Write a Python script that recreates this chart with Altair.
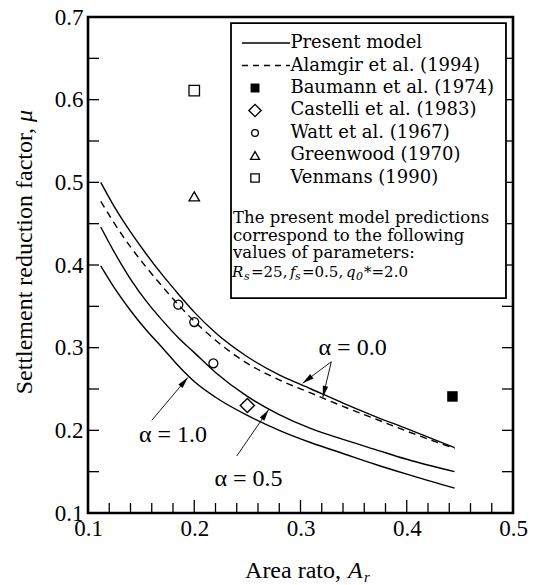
import altair as alt
import pandas as pd
import numpy as np

# ---------------- data ----------------
area_ratio = [0.112, 0.125, 0.14, 0.155, 0.17, 0.185, 0.2, 0.22, 0.25, 0.28, 0.31, 0.34, 0.37, 0.40, 0.445]
mu_alpha_00 = [0.500, 0.470, 0.440, 0.413, 0.388, 0.365, 0.343, 0.318, 0.289, 0.267, 0.250, 0.233, 0.217, 0.202, 0.179]
mu_alpha_05 = [0.446, 0.415, 0.383, 0.356, 0.333, 0.312, 0.294, 0.270, 0.241, 0.219, 0.202, 0.189, 0.177, 0.165, 0.150]
mu_alpha_10 = [0.399, 0.372, 0.345, 0.321, 0.300, 0.278, 0.259, 0.240, 0.218, 0.200, 0.185, 0.172, 0.159, 0.147, 0.130]
mu_alamgir = [0.477, 0.450, 0.422, 0.397, 0.374, 0.352, 0.332, 0.309, 0.281, 0.261, 0.245, 0.229, 0.214, 0.199, 0.178]

baumann_x, baumann_y = [0.443], [0.241]
castelli_x, castelli_y = [0.25], [0.23]
watt_x, watt_y = [0.185, 0.2, 0.218], [0.352, 0.331, 0.281]
greenwood_x, greenwood_y = [0.2], [0.483]
venmans_x, venmans_y = [0.2], [0.611]

x_tick_labels = [0.1, 0.2, 0.3, 0.4, 0.5]
y_tick_labels = [0.1, 0.2, 0.3, 0.4, 0.5, 0.6, 0.7]
y_ticks = [0.15, 0.2, 0.25, 0.3, 0.35, 0.4, 0.45, 0.5, 0.55, 0.6, 0.65]
x_minor_ticks = [0.12, 0.14, 0.16, 0.18, 0.22, 0.24, 0.26, 0.28, 0.32, 0.34, 0.36, 0.38, 0.42, 0.44, 0.46, 0.48]
x_major_ticks = [0.2, 0.3, 0.4]

legend_labels = ["Present model", "Alamgir et al. (1994)", "Baumann et al. (1974)",
                 "Castelli et al. (1983)", "Watt et al. (1967)", "Greenwood (1970)", "Venmans (1990)"]
legend_rows = [0.6685, 0.6413, 0.6141, 0.5869, 0.5597, 0.5325, 0.5052]
note_lines = ["The present model predictions", "correspond to the following", "values of parameters:"]
note_rows = [0.4568, 0.4350, 0.4140]
param_parts = ["R", "s", "=25,", "f", "s", "=0.5,", "q", "0", "*=2.0"]
param_x = [0.2355, 0.2468, 0.2534, 0.2901, 0.2948, 0.3014, 0.3428, 0.3522, 0.3598]
param_italic = [True, True, False, True, True, False, True, True, False]
param_sub = [False, True, False, False, True, False, False, True, False]
param_row = 0.3920

alpha_labels = ["α = 1.0", "α = 0.5", "α = 0.0"]
alpha_label_x = [0.180, 0.251, 0.349]
alpha_label_y = [0.194, 0.141, 0.300]
arrow_x0 = [0.160, 0.240, 0.329, 0.329]
arrow_y0 = [0.212, 0.169, 0.283, 0.283]
arrow_x1 = [0.194, 0.270, 0.302, 0.321]
arrow_y1 = [0.264, 0.225, 0.257, 0.240]

# ---------------- layout ----------------
W, H = 425, 496
X_DOM = [0.1, 0.5]
Y_DOM = [0.1, 0.7]
FONT = "Liberation Serif, Times New Roman, Times, serif"
BOXFONT = "DejaVu Serif, Liberation Serif, serif"

xs = alt.Scale(domain=X_DOM, nice=False, zero=False)
ys = alt.Scale(domain=Y_DOM, nice=False, zero=False)
xaxis = alt.Axis(values=x_tick_labels, format=".1f", ticks=False, domain=False, grid=False,
                 labelFont=FONT, labelFontSize=23, labelPadding=4, labelColor="black",
                 title=None, labelFlush=False, labelOverlap=False)
yaxis = alt.Axis(values=y_tick_labels, format=".1f", ticks=False, domain=False, grid=False,
                 labelFont=FONT, labelFontSize=23, labelPadding=5, labelColor="black",
                 title=None, labelOverlap=False)


def X(f):
    return alt.X(f, type="quantitative", scale=xs, axis=xaxis)


def Y(f):
    return alt.Y(f, type="quantitative", scale=ys, axis=yaxis)


curves = pd.DataFrame({
    "x": area_ratio * 3,
    "mu": mu_alpha_00 + mu_alpha_05 + mu_alpha_10,
    "s": ["a00"] * len(area_ratio) + ["a05"] * len(area_ratio) + ["a10"] * len(area_ratio),
})
dashed = pd.DataFrame({"x": area_ratio, "mu": mu_alamgir})

solid_layer = alt.Chart(curves).mark_line(color="black", strokeWidth=1.4, interpolate="monotone").encode(
    x=X("x"), y=Y("mu"), detail="s:N")
dash_layer = alt.Chart(dashed).mark_line(color="black", strokeWidth=1.4, strokeDash=[7, 5],
                                         interpolate="monotone").encode(x=X("x"), y=Y("mu"))


def pts(xv, yv, **kw):
    return alt.Chart(pd.DataFrame({"x": xv, "y": yv})).mark_point(color="black", opacity=1, **kw).encode(
        x=X("x"), y=Y("y"))


baumann = pts(baumann_x, baumann_y, shape="square", filled=True, size=110)
castelli = pts(castelli_x, castelli_y, shape="diamond", filled=False, size=200, strokeWidth=1.4)
watt = pts(watt_x, watt_y, shape="circle", filled=False, size=80, strokeWidth=1.3)
greenwood = pts(greenwood_x, greenwood_y, shape="triangle-up", filled=False, size=110, strokeWidth=1.3)
venmans = pts(venmans_x, venmans_y, shape="square", filled=False, size=110, strokeWidth=1.3)

# ticks drawn inward
yt = pd.DataFrame({"y": y_ticks})
left_ticks = alt.Chart(yt).mark_rule(color="black", strokeWidth=1.3).encode(
    y=Y("y"), x=alt.value(0), x2=alt.value(11))
right_ticks = alt.Chart(yt).mark_rule(color="black", strokeWidth=1.3).encode(
    y=Y("y"), x=alt.value(W), x2=alt.value(W - 11))
bottom_minor = alt.Chart(pd.DataFrame({"x": x_minor_ticks})).mark_rule(color="black", strokeWidth=1.3).encode(
    x=X("x"), y=alt.value(H), y2=alt.value(H - 10))
bottom_major = alt.Chart(pd.DataFrame({"x": x_major_ticks})).mark_rule(color="black", strokeWidth=1.3).encode(
    x=X("x"), y=alt.value(H), y2=alt.value(H - 13))

# legend box
lx0, lx1 = 0.2346, 0.4934
ly0, ly1 = 0.360, 0.6927
box = alt.Chart(pd.DataFrame({"x": [lx0], "x2": [lx1], "y": [ly0], "y2": [ly1]})).mark_rect(
    fill="white", stroke="black", strokeWidth=1.8).encode(x=X("x"), x2="x2", y=Y("y"), y2="y2")

sym_x = 0.2572
line_x0, line_x1 = 0.2449, 0.2901
text_x = 0.2905
leg_solid = alt.Chart(pd.DataFrame({"x": [line_x0], "x2": [line_x1], "y": [legend_rows[0]]})).mark_rule(
    color="black", strokeWidth=1.4).encode(x=X("x"), x2="x2", y=Y("y"))
leg_dash = alt.Chart(pd.DataFrame({"x": [line_x0], "x2": [line_x1], "y": [legend_rows[1]]})).mark_rule(
    color="black", strokeWidth=1.4, strokeDash=[6, 5]).encode(x=X("x"), x2="x2", y=Y("y"))
leg_b = pts([sym_x], [legend_rows[2]], shape="square", filled=True, size=80)
leg_c = pts([sym_x], [legend_rows[3]], shape="diamond", filled=False, size=150, strokeWidth=1.4)
leg_w = pts([sym_x], [legend_rows[4]], shape="circle", filled=False, size=45, strokeWidth=1.3)
leg_g = pts([sym_x], [legend_rows[5]], shape="triangle-up", filled=False, size=80, strokeWidth=1.3)
leg_v = pts([sym_x], [legend_rows[6]], shape="square", filled=False, size=70, strokeWidth=1.3)

leg_text = alt.Chart(pd.DataFrame({"x": [text_x] * len(legend_labels), "y": legend_rows, "t": legend_labels})).mark_text(
    font=BOXFONT, fontSize=18, align="left", baseline="middle", color="black").encode(x=X("x"), y=Y("y"), text="t:N")

note_text = alt.Chart(pd.DataFrame({"x": [0.2365] * len(note_lines), "y": note_rows, "t": note_lines})).mark_text(
    font=BOXFONT, fontSize=16.5, align="left", baseline="middle", color="black").encode(x=X("x"), y=Y("y"), text="t:N")

param_layers = []
for part, px, it, sub in zip(param_parts, param_x, param_italic, param_sub):
    param_layers.append(
        alt.Chart(pd.DataFrame({"x": [px], "y": [param_row], "t": [part]})).mark_text(
            font=BOXFONT, fontSize=11 if sub else 15, fontStyle="italic" if it else "normal",
            align="left", baseline="middle", dy=5 if sub else 0, color="black").encode(
            x=X("x"), y=Y("y"), text="t:N"))

# annotations
def to_px_x(v):
    return (np.asarray(v) - X_DOM[0]) / (X_DOM[1] - X_DOM[0]) * W


def to_px_y(v):
    return H - (np.asarray(v) - Y_DOM[0]) / (Y_DOM[1] - Y_DOM[0]) * H


dxp = to_px_x(arrow_x1) - to_px_x(arrow_x0)
dyp = to_px_y(arrow_y1) - to_px_y(arrow_y0)
angles = (np.degrees(np.arctan2(dxp, -dyp)) + 360) % 360
arrows = pd.DataFrame({"x": arrow_x0, "y": arrow_y0, "x2": arrow_x1, "y2": arrow_y1, "ang": angles})
arrow_lines = alt.Chart(arrows).mark_rule(color="black", strokeWidth=0.9).encode(
    x=X("x"), y=Y("y"), x2="x2", y2="y2")
arrow_heads = alt.Chart(arrows).mark_point(
    shape="M0,0L0.55,2.3L-0.55,2.3Z", filled=True, color="black", opacity=1, size=100).encode(
    x=X("x2"), y=Y("y2"), angle=alt.Angle("ang:Q", scale=None))
alpha_text = alt.Chart(pd.DataFrame({"x": alpha_label_x, "y": alpha_label_y, "t": alpha_labels})).mark_text(
    font=FONT, fontSize=24, align="center", baseline="middle", color="black").encode(
    x=X("x"), y=Y("y"), text="t:N")

# axis titles
ytitle_main = alt.Chart(pd.DataFrame({"t": ["Settlement reduction factor,"]})).mark_text(
    font=FONT, fontSize=24, angle=270, align="right", baseline="middle", color="black").encode(
    x=alt.value(-63), y=alt.value(111), text="t:N")
ytitle_mu = alt.Chart(pd.DataFrame({"t": ["μ"]})).mark_text(
    font=FONT, fontSize=24, fontStyle="italic", angle=270, align="center", baseline="middle", color="black").encode(
    x=alt.value(-63), y=alt.value(99), text="t:N")
xtitle_main = alt.Chart(pd.DataFrame({"t": ["Area rato,"]})).mark_text(
    font=FONT, fontSize=24, align="right", baseline="alphabetic", color="black").encode(
    x=alt.value(253), y=alt.value(561), text="t:N")
xtitle_a = alt.Chart(pd.DataFrame({"t": ["A"]})).mark_text(
    font=FONT, fontSize=24, fontStyle="italic", align="left", baseline="alphabetic", color="black").encode(
    x=alt.value(260), y=alt.value(561), text="t:N")
xtitle_r = alt.Chart(pd.DataFrame({"t": ["r"]})).mark_text(
    font=FONT, fontSize=15, fontStyle="italic", align="left", baseline="alphabetic", color="black").encode(
    x=alt.value(276), y=alt.value(565), text="t:N")

chart = alt.layer(
    solid_layer, dash_layer, left_ticks, right_ticks, bottom_minor, bottom_major,
    box, leg_solid, leg_dash, leg_b, leg_c, leg_w, leg_g, leg_v, leg_text, note_text, *param_layers,
    baumann, castelli, watt, greenwood, venmans,
    arrow_lines, arrow_heads, alpha_text,
    ytitle_main, ytitle_mu, xtitle_main, xtitle_a, xtitle_r,
).properties(
    width=W, height=H,
    autosize=alt.AutoSizeParams(type="none"),
    padding={"left": 88, "top": 17, "right": 20, "bottom": 72},
    background="white",
).configure_view(stroke="black", strokeWidth=2.6)

chart.save("out.html", embed_options={"renderer": "svg", "actions": False})
